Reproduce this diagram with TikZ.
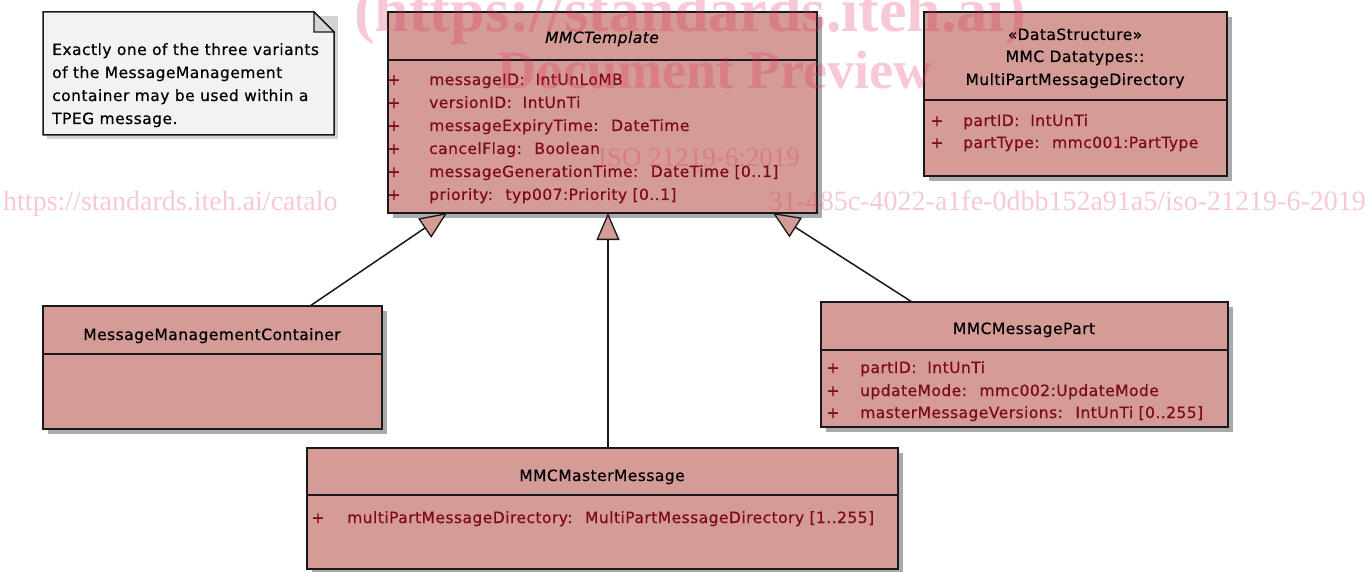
\documentclass[tikz,border=0pt]{standalone}
\usepackage{fontspec}
\newfontfamily\umlfont{DejaVu Sans}[LetterSpace=3,FakeBold=0.4]
\newfontfamily\wmfont{Liberation Serif}
\usetikzlibrary{arrows.meta,calc,backgrounds}
\definecolor{boxfill}{RGB}{213,155,150}
\definecolor{edge}{RGB}{25,25,25}
\definecolor{attrcol}{RGB}{125,10,20}
\definecolor{shadowcol}{RGB}{170,170,170}
\definecolor{notefill}{RGB}{242,242,242}
\definecolor{foldfill}{RGB}{215,215,215}
\definecolor{wmcol}{RGB}{225,40,90}
\begin{document}
\begin{tikzpicture}[x=1pt,y=-1pt,
 umlbox/.style={draw=edge, line width=1.8pt, fill=boxfill, inner sep=0pt, outer sep=0pt, anchor=north west},
 sepline/.style={draw=edge, line width=1.5pt},
 hdr/.style={font=\umlfont\fontsize{15.5}{18}\selectfont, text=black, inner sep=0pt, anchor=base},
 attr/.style={font=\umlfont\fontsize{15.5}{18}\selectfont, text=attrcol, inner sep=0pt, anchor=base west},
 plus/.style={font=\umlfont\fontsize{15.5}{18}\selectfont, text=attrcol, inner sep=0pt, anchor=base},
 notetext/.style={font=\umlfont\fontsize{15.5}{18}\selectfont, text=black, inner sep=0pt, anchor=base west},
 gen/.style={draw=edge, line width=1.5pt, -{Triangle[length=27pt,width=23pt,fill=boxfill,line width=1.3pt]}},
 wm/.style={text=wmcol, opacity=0.25, inner sep=0pt},
]
\useasboundingbox (0,0) rectangle (1370,572);

% note
\node[inner sep=0pt, outer sep=0pt, minimum width=291pt, minimum height=123pt, anchor=north west] (note) at (43,12) {};
\draw[draw=edge, line width=1.5pt, fill=notefill] (note.north west) -- ($(note.north east)+(-20,0)$) -- ($(note.north east)+(0,20)$) -- (note.south east) -- (note.south west) -- cycle;
\draw[draw=edge, line width=1.2pt, fill=foldfill] ($(note.north east)+(-20,0)$) -- ($(note.north east)+(-20,20)$) -- ($(note.north east)+(0,20)$) -- cycle;
\node[notetext] (n1) at (52,55) {Exactly one of the three variants};
\node[notetext] (n2) at (52,78) {of the MessageManagement};
\node[notetext] (n3) at (52,101) {container may be used within a};
\node[notetext] (n4) at (52,124) {TPEG message.};

% boxes
\node[umlbox, minimum width=429pt, minimum height=201pt] (tmpl) at (388,12) {};
\node[umlbox, minimum width=303pt, minimum height=164pt] (ds) at (924,12) {};
\node[umlbox, minimum width=339pt, minimum height=123pt] (mmc) at (43,306) {};
\node[umlbox, minimum width=407pt, minimum height=125pt] (part) at (821,302) {};
\node[umlbox, minimum width=591pt, minimum height=121pt] (master) at (307,448) {};

\begin{scope}[on background layer]
\fill[white] (0,0) rectangle (1370,572);
\fill[gray!35] ($(note.north west)+(4,4)$) rectangle ($(note.south east)+(4,4)$);
\foreach \b in {tmpl,ds,mmc,part,master}
  \fill[shadowcol] ($(\b.north west)+(5,5)$) rectangle ($(\b.south east)+(5,5)$);
\end{scope}

\draw[sepline] (tmpl.west |- 0,60) -- (tmpl.east |- 0,60);
\draw[sepline] (ds.west |- 0,100) -- (ds.east |- 0,100);
\draw[sepline] (mmc.west |- 0,354) -- (mmc.east |- 0,354);
\draw[sepline] (part.west |- 0,350) -- (part.east |- 0,350);
\draw[sepline] (master.west |- 0,495) -- (master.east |- 0,495);

% MMCTemplate
\node[hdr] (th) at (602,43) {\itshape MMCTemplate};
\foreach \yy/\nm in {85/p1,108/p2,131/p3,154/p4,177/p5,200/p6}
  \node[plus] (t\nm) at (394,\yy) {+};
\node[attr] (ta1) at (429,85) {messageID:~ IntUnLoMB};
\node[attr] (ta2) at (429,108) {versionID:~ IntUnTi};
\node[attr] (ta3) at (429,131) {messageExpiryTime:~ DateTime};
\node[attr] (ta4) at (429,154) {cancelFlag:~ Boolean};
\node[attr] (ta5) at (429,177) {messageGenerationTime:~ DateTime [0..1]};
\node[attr] (ta6) at (429,200) {priority:~ typ007:Priority [0..1]};

% DataStructure
\node[hdr] (dh1) at (1075,40) {«DataStructure»};
\node[hdr] (dh2) at (1075,62) {MMC Datatypes::};
\node[hdr] (dh3) at (1075,85) {MultiPartMessageDirectory};
\node[plus] (dp1) at (937,126) {+};
\node[plus] (dp2) at (937,148) {+};
\node[attr] (da1) at (963,126) {partID:~ IntUnTi};
\node[attr] (da2) at (963,148) {partType:~ mmc001:PartType};

% MessageManagementContainer
\node[hdr] (mh) at (212,340) {MessageManagementContainer};

% MMCMessagePart
\node[hdr] (ph) at (1024,334) {MMCMessagePart};
\node[plus] (pp1) at (833,373) {+};
\node[plus] (pp2) at (833,396) {+};
\node[plus] (pp3) at (833,418) {+};
\node[attr] (pa1) at (860,373) {partID:~ IntUnTi};
\node[attr] (pa2) at (860,396) {updateMode:~ mmc002:UpdateMode};
\node[attr] (pa3) at (860,418) {masterMessageVersions:~ IntUnTi [0..255]};

% MMCMasterMessage
\node[hdr] (sh) at (602,481) {MMCMasterMessage};
\node[plus] (sp1) at (318,523) {+};
\node[attr] (sa1) at (347,523) {multiPartMessageDirectory:~ MultiPartMessageDirectory [1..255]};

% generalizations
\draw[gen] ($(mmc.north west)+(267,0)$) -- ($(tmpl.south west)+(59,0)$);
\draw[gen] ($(master.north west)+(301,0)$) -- ($(tmpl.south west)+(220,0)$);
\draw[gen] ($(part.north west)+(91,0)$) -- ($(tmpl.south west)+(385,0)$);

% watermark
\node[wm, font=\wmfont\bfseries\fontsize{62}{62}\selectfont, anchor=base] (wm1) at (690,32) {(https://standards.iteh.ai)};
\node[wm, font=\wmfont\bfseries\fontsize{54}{54}\selectfont, anchor=base] (wm2) at (715,89) {Document Preview};
\node[wm, font=\wmfont\fontsize{27}{27}\selectfont, anchor=base east] (wm3) at (800,167) {ISO 21219-6:2019};
\node[wm, font=\wmfont\fontsize{28}{28}\selectfont, anchor=base west] (wm4) at (3,211) {https://standards.iteh.ai/catalo};
\node[wm, font=\wmfont\fontsize{28}{28}\selectfont, anchor=base east] (wm5) at (1366,211) {31-485c-4022-a1fe-0dbb152a91a5/iso-21219-6-2019};
\end{tikzpicture}
\end{document}
